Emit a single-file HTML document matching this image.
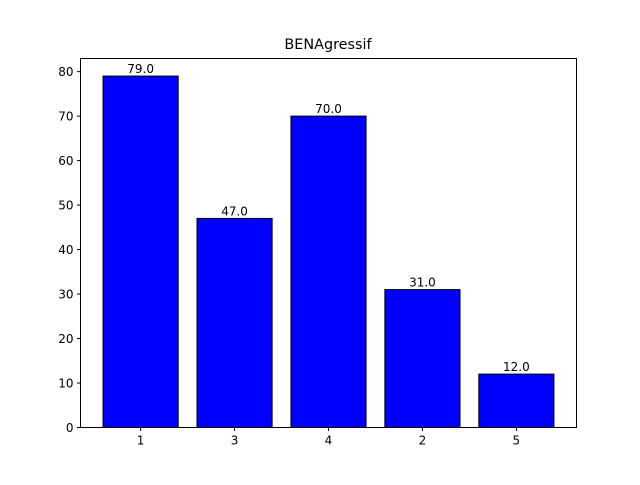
<!DOCTYPE html>
<html><head><meta charset="utf-8"><style>
body{margin:0;background:#fff;}
svg text{font-family:"DejaVu Sans","Liberation Sans",sans-serif;}
</style></head><body>
<svg id="chart" width="640" height="480" xmlns="http://www.w3.org/2000/svg">
<rect width="640" height="480" fill="#fff"/>
<text x="328" y="49" font-size="14.4" text-anchor="middle">BENAgressif</text>
<g id="marks" transform="translate(0.5,0.5)"></g>
<rect x="80.5" y="58.5" width="496" height="369" fill="none" stroke="#000" stroke-width="1"/>
</svg>
<script>
const categories = ["1","3","4","2","5"];
const values = [79, 47, 70, 31, 12];
const yTicks = [0,10,20,30,40,50,60,70,80];

const L=80,R=576,T=58,B=427;
const xmin=-0.64,xmax=4.64;
const ymax=Math.max(...values)*1.05;
const xs=i=>L+(i-xmin)/(xmax-xmin)*(R-L);
const ys=v=>B-v/ymax*(B-T);
const g=document.getElementById('marks');
const NS="http://www.w3.org/2000/svg";
function mk(t,a){const e=document.createElementNS(NS,t);for(const k in a)e.setAttribute(k,a[k]);return e;}
values.forEach((v,i)=>{
  const x0=xs(i-0.4),x1=xs(i+0.4);
  const r=mk('rect',{x:x0,y:ys(v),width:x1-x0,height:B-ys(v),fill:'#0000ff',stroke:'#000','stroke-width':1});
  
  
  g.appendChild(r);
  const t=mk('text',{x:xs(i),y:ys(v)-3,'font-size':12,'text-anchor':'middle'});
  t.textContent=v.toFixed(1);
  
  
  g.appendChild(t);
  const tk=mk('line',{x1:xs(i),x2:xs(i),y1:B,y2:B+3.5,stroke:'#000'});
  
  
  g.appendChild(tk);
  const tl=mk('text',{x:xs(i),y:B+17,'font-size':12,'text-anchor':'middle'});
  tl.textContent=categories[i];
  
  
  g.appendChild(tl);
});
yTicks.forEach(v=>{
  const tk=mk('line',{x1:L-3.5,x2:L,y1:ys(v),y2:ys(v),stroke:'#000'});
  
  
  g.appendChild(tk);
  const tl=mk('text',{x:L-7,y:ys(v)+4.5,'font-size':12,'text-anchor':'end'});
  tl.textContent=v;
  
  
  g.appendChild(tl);
});
</script>
</body></html>
